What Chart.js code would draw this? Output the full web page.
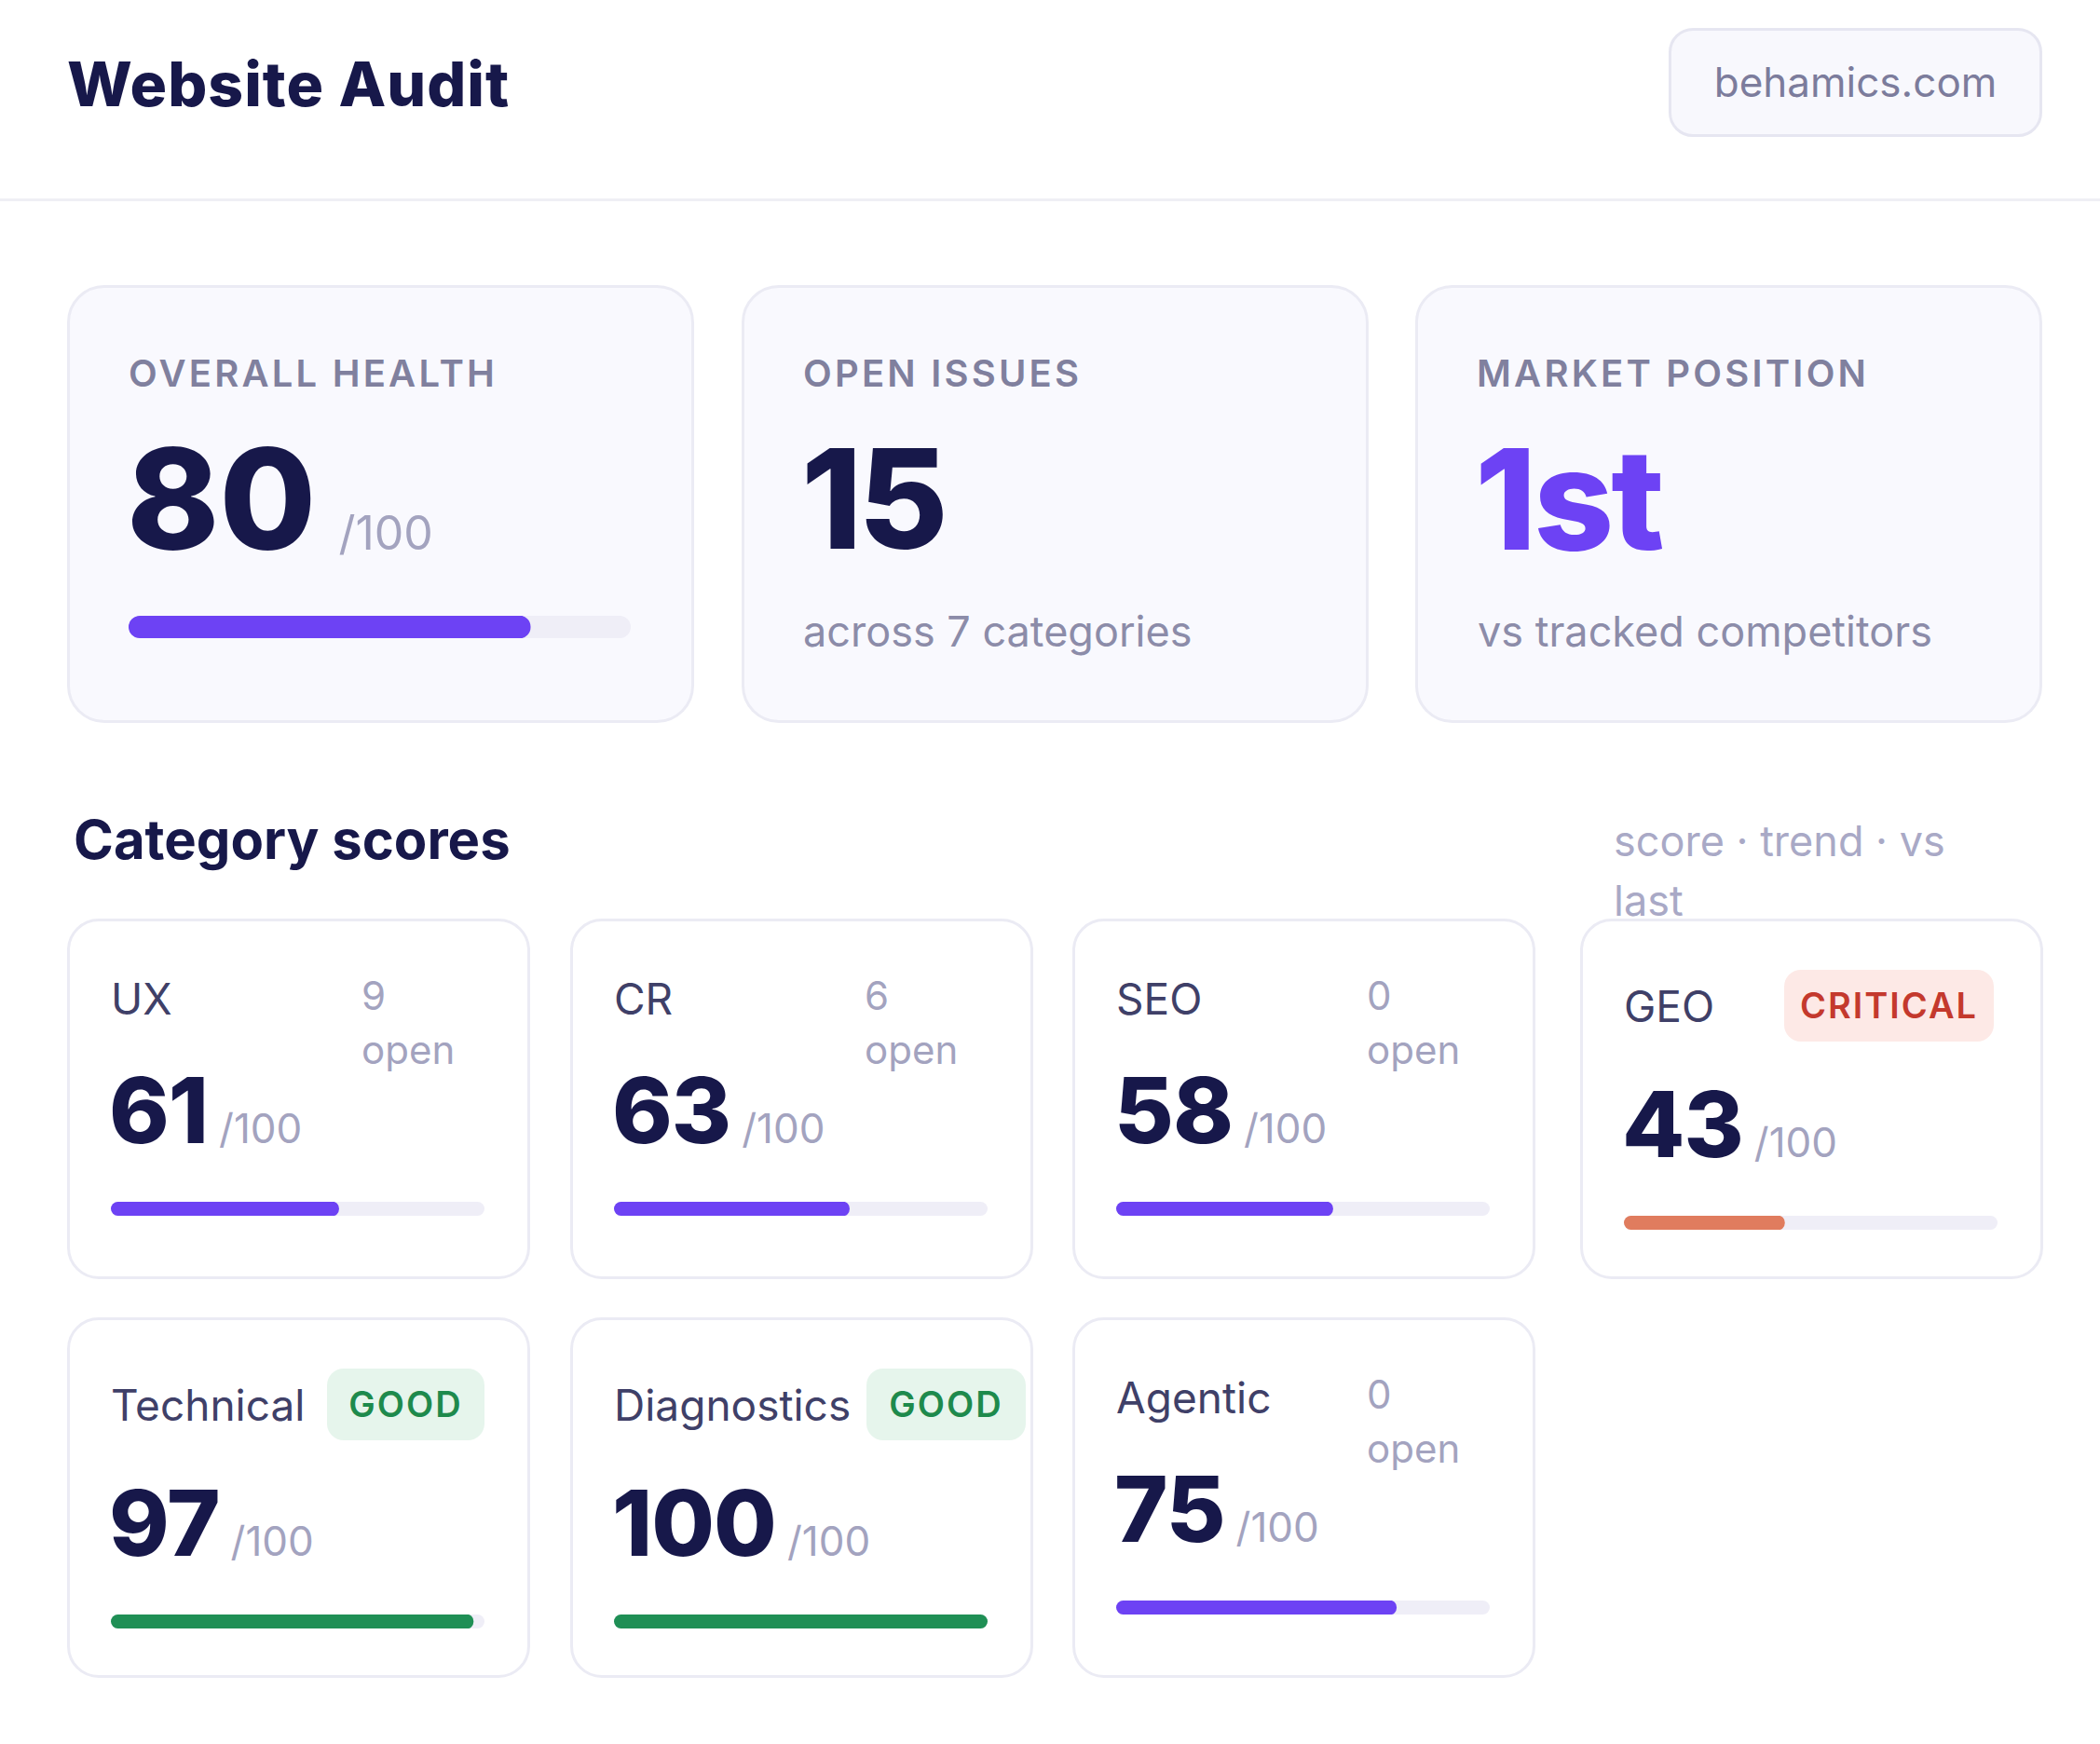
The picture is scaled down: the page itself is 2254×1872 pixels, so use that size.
<!DOCTYPE html>
<html><head><meta charset="utf-8">
<script src="https://cdn.jsdelivr.net/npm/chart.js@4.4.1/dist/chart.umd.min.js"></script>
<style>
html,body{margin:0;padding:0;background:#fff;}
body{width:2254px;height:1872px;position:relative;font-family:Inter,"Noto Sans",sans-serif;color:#17184a;overflow:hidden;}
.a{position:absolute;white-space:nowrap;}
.card{position:absolute;background:#f9f9fe;border:3px solid #ebebf4;border-radius:40px;box-sizing:border-box;}
.scard{position:absolute;background:#fff;border:3px solid #ebebf4;border-radius:34px;box-sizing:border-box;}
.track{position:absolute;background:#efeef7;border-radius:12px;overflow:hidden;}
.track canvas{display:block;}
</style></head><body>
<div class="a" style="left:72px;top:48px;font-size:66px;font-weight:800;line-height:84px;letter-spacing:1px">Website Audit</div>
<div class="a" style="left:1791px;top:30px;width:401px;height:117px;box-sizing:border-box;border:3px solid #e6e6f1;border-radius:26px;background:#f8f8fd;color:#7c7c9c;font-size:44px;line-height:111px;text-align:center">behamics.com</div>
<div class="a" style="left:0;top:213px;width:2254px;height:3px;background:#efeff5"></div>

<div class="a" style="left:79px;top:868px;font-size:58px;font-weight:700;line-height:66px">Category scores</div>
<div class="a" style="left:1732px;top:871px;font-size:45px;color:#a9a9c6;line-height:64px;white-space:normal;width:400px">score · trend · vs last</div>

<script>
const overallScore = 80;
const openIssues = 15;
const categoryCount = 7;
const marketPosition = "1st";
const categories = ["UX","CR","SEO","GEO","Technical","Diagnostics","Agentic"];
const scores = [61,63,58,43,97,100,75];
const openCounts = [9,6,0,null,null,null,0];
const badges = [null,null,null,"CRITICAL","GOOD","GOOD",null];
const maxScore = 100;

function el(html){const d=document.createElement('div');d.innerHTML=html;const n=d.firstElementChild;document.body.appendChild(n);return n;}

function bar(x,y,w,h,value,color){
  const t=el(`<div class="track" style="left:${x}px;top:${y}px;width:${w}px;height:${h}px;border-radius:${h/2}px"></div>`);
  const c=document.createElement('canvas');c.width=w;c.height=h;c.style.width=w+'px';c.style.height=h+'px';t.appendChild(c);
  new Chart(c,{type:'bar',data:{labels:[''],datasets:[{data:[value],backgroundColor:color,borderRadius:h/2,borderSkipped:false,barPercentage:1,categoryPercentage:1}]},
   options:{indexAxis:'y',responsive:false,animation:false,devicePixelRatio:1,layout:{padding:0},
   plugins:{legend:{display:false},tooltip:{enabled:false}},
   scales:{x:{display:false,min:0,max:maxScore},y:{display:false}}}});
}

const tops=[[72,"OVERALL HEALTH"],[796,"OPEN ISSUES"],[1519,"MARKET POSITION"]];
tops.forEach(([x,l])=>{
  el(`<div class="card" style="left:${x}px;top:306px;width:673px;height:470px"></div>`);
  el(`<div class="a" style="left:${x+66}px;top:377px;font-size:40px;font-weight:600;letter-spacing:3.2px;color:#80809e;line-height:48px">${l}</div>`);
});
el(`<div class="a" style="left:136px;top:456px;line-height:160px;font-weight:800"><span style="font-size:150px;letter-spacing:0px">${overallScore}</span><span style="font-size:50px;font-weight:400;color:#a3a3bf;margin-left:24px">/${maxScore}</span></div>`);
bar(138,661,539,24,overallScore,'#6d42f4');
el(`<div class="a" style="left:860px;top:456px;line-height:160px;font-weight:800;font-size:148px;letter-spacing:-4px">${openIssues}</div>`);
el(`<div class="a" style="left:862px;top:648px;font-size:45px;color:#8c8ca9;line-height:60px">across ${categoryCount} categories</div>`);
el(`<div class="a" style="left:1583px;top:456px;line-height:160px;font-weight:800;font-size:150px;letter-spacing:-3px;color:#6d42f4">${marketPosition}</div>`);
el(`<div class="a" style="left:1586px;top:648px;font-size:45px;color:#8c8ca9;line-height:60px">vs tracked competitors</div>`);

const xs=[72,612,1151,1696], ys=[986,1414];
categories.forEach((name,i)=>{
  const x=xs[i%4], y=ys[Math.floor(i/4)];
  el(`<div class="scard" style="left:${x}px;top:${y}px;width:497px;height:387px"></div>`);
  const b=badges[i];
  let nameY, numY, barY;
  if(b){nameY=y+94;numY=y+221;barY=y+327;}
  else {nameY=y+86;numY=y+206;barY=y+312;}
  el(`<div class="a" style="left:${x+47}px;top:${nameY-30}px;font-size:46px;color:#3f4068;line-height:60px">${name}</div>`);
  if(b){
    const crit=b==="CRITICAL";
    const bx=crit?x+219:x+(i===5?318:279), bw=crit?225:(i===5?171:169);
    el(`<div class="a" style="left:${bx}px;top:${nameY-39}px;width:${bw}px;height:77px;border-radius:18px;background:${crit?'#fde9e6':'#e6f5ec'};color:${crit?'#c4392d':'#1e8a4c'};font-size:38px;font-weight:600;letter-spacing:2px;text-align:center;line-height:77px">${b}</div>`);
  } else {
    el(`<div class="a" style="left:${x+316}px;top:${nameY-32}px;font-size:42px;color:#a3a3bf;line-height:58px;white-space:normal;width:120px">${openCounts[i]} open</div>`);
  }
  el(`<div class="a" style="left:${x+45}px;top:${numY-60}px;line-height:120px;font-weight:800"><span style="font-size:98px;letter-spacing:-1px">${scores[i]}</span><span style="font-size:44px;font-weight:400;color:#a3a3bf;margin-left:12px">/${maxScore}</span></div>`);
  const col=b==="CRITICAL"?'#e07c5e':(b==="GOOD"?'#1f8f55':'#6d42f4');
  bar(x+47,barY-8,401,15,scores[i],col);
});
</script>
</body></html>
